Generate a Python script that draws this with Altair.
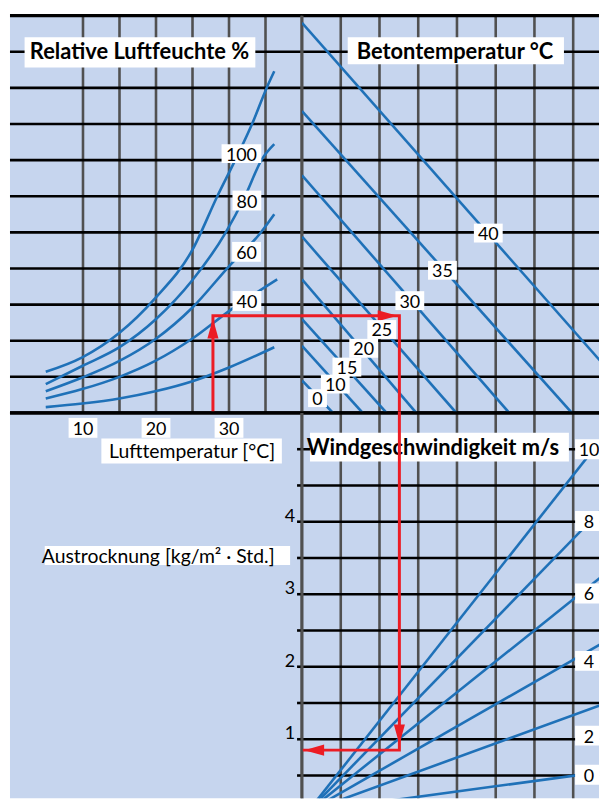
import altair as alt
import pandas as pd

FONT = "Lato"
BG = "#c6d5ee"
BLUE = "#1f71b8"
RED = "#ec1c24"
GREY = "#505050"

W_L, W_R, H_T, H_B = 294, 299, 400, 388

# ------------------------------------------------------------------ values
# upper half, vertical axis: vapour pressure (mmHg)
vp_grid = [5, 10, 15, 20, 25, 30, 35, 40, 45, 50]
# left half, horizontal axis: air temperature (°C)
air_temp_grid = [10, 15, 20, 25, 30, 35]
air_temp_ticks = [10, 20, 30]
# right half, horizontal axis: vapour-pressure difference
diff_grid = [6, 12, 18, 24, 30, 36, 42]
# lower half, vertical axis: evaporation (kg/m² per hour)
evap_grid = [0.5, 1.0, 1.5, 2.0, 2.5, 3.0, 3.5, 4.0, 4.5, 5.0]
evap_ticks = [1, 2, 3, 4]

# relative humidity curves: air temperature -> vapour pressure
rh100_temp = [4.9, 9.9, 15.0, 19.9, 25.0, 28.4, 30.9, 33.2, 35.2, 36.2]
rh100_vp = [5.7, 7.7, 11.1, 15.9, 22.6, 30.0, 35.1, 40.1, 45.1, 47.3]
rh80_temp = [4.9, 9.9, 15.0, 19.9, 25.0, 29.5, 32.2, 34.5, 36.2]
rh80_vp = [4.0, 6.5, 9.1, 12.9, 18.4, 24.9, 30.0, 35.1, 37.2]
rh60_temp = [4.9, 9.9, 15.0, 19.9, 25.0, 30.0, 34.3, 36.2]
rh60_vp = [3.0, 4.9, 7.2, 10.2, 14.6, 20.3, 24.9, 27.5]
rh40_temp = [4.9, 9.9, 15.0, 19.9, 25.0, 30.0, 36.6]
rh40_vp = [2.0, 3.3, 5.0, 7.2, 10.3, 14.1, 18.5]
rh20_temp = [4.9, 9.9, 15.0, 19.9, 25.0, 30.0, 36.2]
rh20_vp = [0.8, 1.3, 2.0, 3.0, 4.4, 6.3, 9.1]

rh_label_text = ["100", "80", "60", "40"]
rh_label_temp = [31.7, 32.45, 32.4, 32.45]
rh_label_vp = [35.9, 29.4, 22.3, 15.5]

# concrete temperature lines
beton_temp = [0, 10, 15, 20, 25, 30, 35, 40]
beton_vp_start = [4.5, 9.3, 13.0, 18.5, 24.4, 32.9, 41.8, 54.0]
beton_diff_end = [4.8, 9.4, 13.1, 17.7, 23.9, 32.1, 41.8, 53.3]
beton_label_diff = [2.4, 5.15, 6.95, 9.55, 12.35, 16.7, 21.75, 28.85]
beton_label_vp = [2.05, 4.0, 6.35, 8.95, 11.55, 15.55, 19.75, 24.9]

# wind speed lines
wind_speed = [0, 2, 4, 6, 8, 10]
wind_start_diff = 0.9
wind_end_diff = 47.2
wind_end_evap = [0.56, 1.5, 2.36, 3.3, 4.24, 5.23]
wind_label_diff = 44.45
wind_label_evap = [0.51, 1.05, 2.08, 3.01, 4.01, 5.0]

# example reading (red path)
red_air_temp = 27.8
red_vp = 13.45
red_diff = 15.08
red_evap = 0.85
arrow_up_vp = 13.05
arrow_right_diff = 14.8
arrow_down_evap = 0.93
arrow_left_diff = 0.35

titles = ["Relative Luftfeuchte %", "Betontemperatur °C", "Windgeschwindigkeit m/s",
          "Lufttemperatur [°C]", "Austrocknung [kg/m² · Std.]"]

# ------------------------------------------------------------------ scales
X_AIR = alt.Scale(domain=[0, 40], nice=False, zero=False)
Y_VP = alt.Scale(domain=[0, 55], nice=False, zero=False)
X_DIFF = alt.Scale(domain=[0, 46.0], nice=False, zero=False)
Y_EVAP = alt.Scale(domain=[0.185, 5.5], nice=False, zero=False)


def X(f, s):
    return alt.X(f, type="quantitative", scale=s, axis=None)


def Y(f, s):
    return alt.Y(f, type="quantitative", scale=s, axis=None)


ONE = pd.DataFrame({"k": [0]})


def hrule(ypx, wpx, color="black", sw=3.5):
    return alt.Chart(ONE).mark_rule(color=color, strokeWidth=sw).encode(
        x=alt.value(0), x2=alt.value(wpx), y=alt.value(ypx))


def vrule(xpx, hpx, color=GREY, sw=3):
    return alt.Chart(ONE).mark_rule(color=color, strokeWidth=sw).encode(
        y=alt.value(0), y2=alt.value(hpx), x=alt.value(xpx))


def vgrid(vals, s):
    return alt.Chart(pd.DataFrame({"v": vals})).mark_rule(color=GREY, strokeWidth=2.6).encode(x=X("v", s))


def hgrid(vals, s):
    return alt.Chart(pd.DataFrame({"v": vals})).mark_rule(color="black", strokeWidth=2.6).encode(y=Y("v", s))


def boxed(df, xs, ys, w, h, size=18, clip=False):
    box = alt.Chart(df).mark_rect(fill="white", xOffset=-w / 2, x2Offset=w / 2,
                                  yOffset=-h / 2, y2Offset=h / 2, clip=clip).encode(
        x=X("x", xs), x2=alt.X2("x"), y=Y("y", ys), y2=alt.Y2("y"))
    txt = alt.Chart(df).mark_text(font=FONT, fontSize=size, color="black",
                                  baseline="alphabetic", dy=7, clip=clip).encode(
        x=X("x", xs), y=Y("y", ys), text="label:N")
    return [box, txt]


def title(text, x0, y0, x1, y1, tx, ty, size, weight):
    d = pd.DataFrame({"label": [text]})
    box = alt.Chart(d).mark_rect(fill="white").encode(
        x=alt.value(x0), x2=alt.value(x1), y=alt.value(y0), y2=alt.value(y1))
    txt = alt.Chart(d).mark_text(font=FONT, fontSize=size, fontWeight=weight, color="black",
                                 align="left", baseline="alphabetic").encode(
        x=alt.value(tx), y=alt.value(ty), text="label:N")
    return [box, txt]


def arrow(df, xf, yf, xs, ys, path):
    return alt.Chart(df).mark_point(shape=path, size=1600, filled=True, color=RED,
                                    opacity=1, strokeWidth=0).encode(x=X(xf, xs), y=Y(yf, ys))


# ------------------------------------------------------------------ frames
rh_curves = [(100, rh100_temp, rh100_vp), (80, rh80_temp, rh80_vp), (60, rh60_temp, rh60_vp),
             (40, rh40_temp, rh40_vp), (20, rh20_temp, rh20_vp)]
df_rh = pd.concat([pd.DataFrame({"rh": l, "temp": t, "vp": v}) for l, t, v in rh_curves],
                  ignore_index=True)
df_rh_lab = pd.DataFrame({"label": rh_label_text, "x": rh_label_temp, "y": rh_label_vp})

rows = []
for T, v0, d0 in zip(beton_temp, beton_vp_start, beton_diff_end):
    rows.append({"beton": T, "diff": 0.0, "vp": v0})
    rows.append({"beton": T, "diff": d0, "vp": 0.0})
df_beton = pd.DataFrame(rows)
df_beton_lab = pd.DataFrame({"label": [str(t) for t in beton_temp],
                             "x": beton_label_diff, "y": beton_label_vp})

rows = []
for s, e in zip(wind_speed, wind_end_evap):
    rows.append({"wind": s, "diff": wind_start_diff, "evap": 0.0})
    rows.append({"wind": s, "diff": wind_end_diff, "evap": e})
df_wind = pd.DataFrame(rows)
df_wind_lab = pd.DataFrame({"label": [str(s) for s in wind_speed],
                            "x": [wind_label_diff] * len(wind_speed), "y": wind_label_evap})

df_red_tl = pd.DataFrame({"step": [0, 1, 2], "temp": [red_air_temp, red_air_temp, 40],
                          "vp": [0, red_vp, red_vp]})
df_red_tr = pd.DataFrame({"step": [0, 1, 2], "diff": [0, red_diff, red_diff],
                          "vp": [red_vp, red_vp, 0]})
df_red_br = pd.DataFrame({"step": [0, 1, 2], "diff": [red_diff, red_diff, arrow_left_diff],
                          "evap": [5.5, red_evap, red_evap]})

UP = "M0,0L0.28,1L-0.28,1Z"
RIGHT = "M0,0L-1,0.28L-1,-0.28Z"
DOWN = "M0,0L0.28,-1L-0.28,-1Z"
LEFT = "M0,0L1,0.28L1,-0.28Z"

red_line = dict(color=RED, strokeWidth=3, strokeJoin="miter", strokeCap="square")

# --- top left
tl = alt.layer(
    vgrid(air_temp_grid, X_AIR),
    hgrid(vp_grid, Y_VP),
    hrule(0, W_L), hrule(H_T, W_L), vrule(W_L, H_T),
    alt.Chart(df_rh).mark_line(color=BLUE, strokeWidth=2.6, interpolate="monotone").encode(
        x=X("temp", X_AIR), y=Y("vp", Y_VP), detail="rh:N"),
    alt.Chart(df_red_tl).mark_line(**red_line).encode(
        x=X("temp", X_AIR), y=Y("vp", Y_VP), order="step:Q"),
    arrow(pd.DataFrame({"t": [red_air_temp], "v": [arrow_up_vp]}), "t", "v", X_AIR, Y_VP, UP),
    *boxed(df_rh_lab[df_rh_lab.label.str.len() == 3], X_AIR, Y_VP, 40, 19),
    *boxed(df_rh_lab[df_rh_lab.label.str.len() == 2], X_AIR, Y_VP, 29, 20),
    *title(titles[0], 14.7, 21.7, 247, 52.3, 20, 44, 22, "bold"),
).properties(width=W_L, height=H_T)

# --- top right
tr = alt.layer(
    vgrid(diff_grid, X_DIFF),
    hgrid(vp_grid, Y_VP),
    hrule(0, W_R), hrule(H_T, W_R), vrule(0, H_T),
    alt.Chart(df_beton).mark_line(color=BLUE, strokeWidth=2.6, clip=True).encode(
        x=X("diff", X_DIFF), y=Y("vp", Y_VP), detail="beton:N"),
    alt.Chart(df_red_tr).mark_line(**red_line).encode(
        x=X("diff", X_DIFF), y=Y("vp", Y_VP), order="step:Q"),
    arrow(pd.DataFrame({"d": [arrow_right_diff], "v": [red_vp]}), "d", "v", X_DIFF, Y_VP, RIGHT),
    *boxed(df_beton_lab[df_beton_lab.label.str.len() == 1], X_DIFF, Y_VP, 19, 18),
    *boxed(df_beton_lab[df_beton_lab.label.str.len() == 2], X_DIFF, Y_VP, 29, 19),
    *title(titles[1], 46, 21.7, 263.7, 49, 55, 44, 22, "bold"),
).properties(width=W_R, height=H_T)

# --- bottom left
df_xt = pd.DataFrame({"label": [str(t) for t in air_temp_ticks], "x": air_temp_ticks})
bl = alt.layer(
    hrule(0, W_L), vrule(W_L, H_B),
    alt.Chart(pd.DataFrame({"e": evap_grid})).mark_rule(color="black", strokeWidth=2.6).encode(
        x=alt.value(W_L - 5), x2=alt.value(W_L), y=Y("e", Y_EVAP)),
    alt.Chart(pd.DataFrame({"e": evap_ticks})).mark_text(
        font=FONT, fontSize=18, color="black", align="right", baseline="alphabetic").encode(
        x=alt.value(W_L - 7), y=Y("e", Y_EVAP), text=alt.Text("e:Q", format="d")),
    alt.Chart(df_xt).mark_rect(fill="white", xOffset=-14.5, x2Offset=14.5).encode(
        x=X("x", X_AIR), x2=alt.X2("x"), y=alt.value(5), y2=alt.value(25)),
    alt.Chart(df_xt).mark_text(font=FONT, fontSize=18, color="black", baseline="alphabetic").encode(
        x=X("x", X_AIR), y=alt.value(22.3), text="label:N"),
    *title(titles[3], 92, 25.7, 273.7, 51, 99.7, 45.7, 19.5, "normal"),
    *title(titles[4], 35, 134, 282, 153, 32, 151.3, 19.5, "normal"),
).properties(width=W_L, height=H_B)

# --- bottom right
br = alt.layer(
    vgrid(diff_grid, X_DIFF),
    hgrid(evap_grid, Y_EVAP),
    hrule(0, W_R), vrule(0, H_B),
    alt.Chart(df_wind).mark_line(color=BLUE, strokeWidth=2.6, clip=True).encode(
        x=X("diff", X_DIFF), y=Y("evap", Y_EVAP), detail="wind:N"),
    *boxed(df_wind_lab, X_DIFF, Y_EVAP, 28, 20, clip=True),
    *title(titles[2], 8, 20, 268.7, 49, 4.7, 42.3, 22, "bold"),
    alt.Chart(df_red_br).mark_line(**red_line).encode(
        x=X("diff", X_DIFF), y=Y("evap", Y_EVAP), order="step:Q"),
    arrow(pd.DataFrame({"d": [red_diff], "e": [arrow_down_evap]}), "d", "e", X_DIFF, Y_EVAP, DOWN),
    arrow(pd.DataFrame({"d": [arrow_left_diff], "e": [red_evap]}), "d", "e", X_DIFF, Y_EVAP, LEFT),
).properties(width=W_R, height=H_B)

chart = alt.concat(tl, tr, bl, br, columns=2, spacing=0, bounds="flush").configure_view(
    fill=BG, stroke=None).properties(
    padding={"top": 3, "left": 0, "right": 0, "bottom": 0}, background="white")

chart.save("out.html", embed_options={"renderer": "svg", "actions": False})
